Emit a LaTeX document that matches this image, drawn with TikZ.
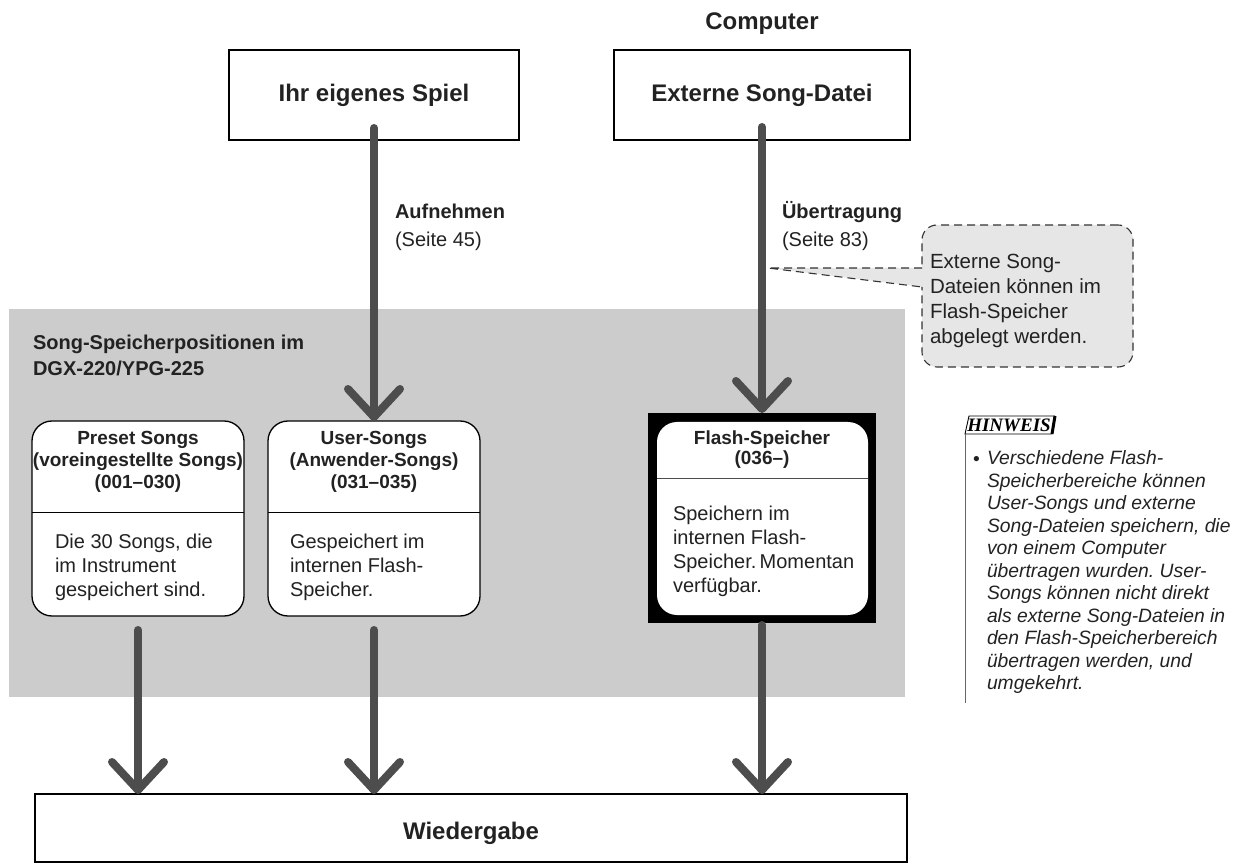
\documentclass[tikz,border=0pt]{standalone}
\usepackage{fontspec}
\setmainfont{Liberation Sans}
\newfontfamily\notefont{Liberation Serif}
\usetikzlibrary{arrows.meta,calc}
\definecolor{panelgray}{HTML}{CCCCCC}
\definecolor{arrowgray}{HTML}{4D4D4D}
\definecolor{calloutgray}{HTML}{E6E6E6}
\definecolor{txt}{HTML}{222222}
\frenchspacing
\begin{document}
\begin{tikzpicture}[x=1pt,y=-1pt,
  every node/.style={inner sep=0pt,outer sep=0pt,text=txt},
  bigbox/.style={draw=black,line width=2.2pt,minimum height=90pt,
    font=\fontsize{24}{28}\selectfont\bfseries},
  songbox/.style={draw=black,line width=1.3pt,fill=white,rounded corners=20pt,
    minimum width=212pt,minimum height=195pt},
  flow/.style={draw=arrowgray,line width=8pt,line cap=round,
    -{Straight Barb[length=28pt,width=52pt,round]}},
  titletxt/.style={align=center,font=\fontsize{19}{22}\selectfont\bfseries},
  bodytxt/.style={align=left,font=\fontsize{20}{24}\selectfont},
  lbltxt/.style={font=\fontsize{20}{24}\selectfont},
  divider/.style={draw=black,line width=1pt}
]
\useasboundingbox (0,0) rectangle (1235,866);

% top
\node[font=\fontsize{24}{28}\selectfont\bfseries] (computer) at (762,24) {Computer};
\node[bigbox,minimum width=290pt] (spiel) at (374,95) {Ihr eigenes Spiel};
\node[bigbox,minimum width=296pt] (ext) at (762,95) {Externe Song-Datei};

% gray panel
\node[fill=panelgray,minimum width=896pt,minimum height=388pt] (panel) at (457,503) {};
\node[anchor=north west,align=left,font=\fontsize{20}{26}\selectfont\bfseries] (paneltitle)
  at (33,335) {Song-Speicherpositionen im\\DGX-220/YPG-225};

% song boxes
\node[songbox] (preset) at (138,518.5) {};
\node[songbox] (user) at (374,518.5) {};
\draw[divider] (preset.west |- 0,513) -- (preset.east |- 0,513);
\draw[divider] (user.west |- 0,513) -- (user.east |- 0,513);
\node[titletxt,anchor=north] (presett) at (138,431)
  {Preset Songs\\(voreingestellte Songs)\\(001–030)};
\node[titletxt,anchor=north] (usert) at (374,431)
  {User-Songs\\(Anwender-Songs)\\(031–035)};
\node[bodytxt,anchor=north west] (presetb) at (55,534)
  {Die 30 Songs, die\\im Instrument\\gespeichert sind.};
\node[bodytxt,anchor=north west] (userb) at (290,534)
  {Gespeichert im\\internen Flash-\\Speicher.};

% flash box
\node[fill=black,minimum width=228pt,minimum height=210pt] (flash) at (762,518) {};
\node[fill=white,rounded corners=20pt,minimum width=211pt,minimum height=193pt] (flashin) at (762.5,518.5) {};
\draw[draw=black!70,line width=1pt] (flashin.west |- 0,479) -- (flashin.east |- 0,479);
\node[align=center,font=\fontsize{19}{20}\selectfont\bfseries,anchor=north] (flasht) at (762,431)
  {Flash-Speicher\\(036–)};
\node[bodytxt,anchor=north west] (flashb) at (673,506)
  {Speichern im\\internen Flash-\\Speicher.\,Momentan\\verfügbar.};

% bottom box
\node[draw=black,line width=2.2pt,minimum width=872pt,minimum height=68pt] (wieder) at (471,828) {};
\node[font=\fontsize{24}{28}\selectfont\bfseries] (wiedert) at (471,833) {Wiedergabe};

% labels
\node[lbltxt,anchor=base west,font=\fontsize{20}{24}\selectfont\bfseries] (aufn) at (395,219) {Aufnehmen};
\node[lbltxt,anchor=base west] (s45) at (395,247) {(Seite 45)};
\node[lbltxt,anchor=base west,font=\fontsize{20}{24}\selectfont\bfseries] (uebt) at (782,219) {Übertragung};
\node[lbltxt,anchor=base west] (s83) at (782,247) {(Seite 83)};

% callout
\node[draw=black!80,dash pattern=on 8pt off 5pt,line width=1.1pt,fill=calloutgray,
  rounded corners=15pt,minimum width=211pt,minimum height=142pt] (callout) at (1027.5,296) {};
\coordinate (ptr) at (768,268);
\coordinate (pa) at (callout.west |- 0,268);
\coordinate (pb) at (callout.west |- 0,287);
\fill[calloutgray] (ptr) -- ($(pa)+(2,0)$) -- ($(pb)+(2,0)$) -- cycle;
\draw[draw=black!80,dash pattern=on 8pt off 5pt,line width=1.1pt] (pa) -- (ptr) -- (pb);
\node[align=left,anchor=north west,font=\fontsize{20.5}{25}\selectfont] (callt) at (930,254)
  {Externe Song-\\Dateien können im\\Flash-Speicher\\abgelegt werden.};

% arrows
\draw[flow] ($(spiel.south)+(0,-12)$) -- (user.north);
\draw[flow] ($(ext.south)+(0,-13)$) -- (flash.north);
\draw[flow] ($(preset.south)+(0,14)$) -- (wieder.north -| preset.south);
\draw[flow] ($(user.south)+(0,14)$) -- (wieder.north -| user.south);
\draw[flow] ($(flash.south)+(0,2)$) -- (wieder.north -| flash.south);

% HINWEIS note
\coordinate (h1) at (969,416);
\coordinate (h2) at (1055,416);
\coordinate (h3) at (1052,434);
\coordinate (h4) at (965,434);
\draw[black,line width=0.9pt] (h2) -- (h1) -- (h4) -- (h3);
\draw[black,line width=3pt] (h2) -- (h3);
\node[font=\notefont\fontsize{19}{19}\selectfont\bfseries\itshape,text=black] (hinw) at (1009,425.5) {HINWEIS};
\coordinate (vend) at (965,703);
\draw[black!60,line width=1pt] (h4) -- (vend);
\node[anchor=base west,font=\fontsize{19.3}{22.5}\selectfont] (bul) at (973,465.5) {•};
\node[anchor=north west,align=left,font=\fontsize{19.3}{22.5}\selectfont\itshape] (notet) at (987,451)
  {Verschiedene Flash-\\Speicherbereiche können\\User-Songs und externe\\Song-Dateien speichern, die\\von einem Computer\\übertragen wurden. User-\\Songs können nicht direkt\\als externe Song-Dateien in\\den Flash-Speicherbereich\\übertragen werden, und\\umgekehrt.};
\end{tikzpicture}
\end{document}
